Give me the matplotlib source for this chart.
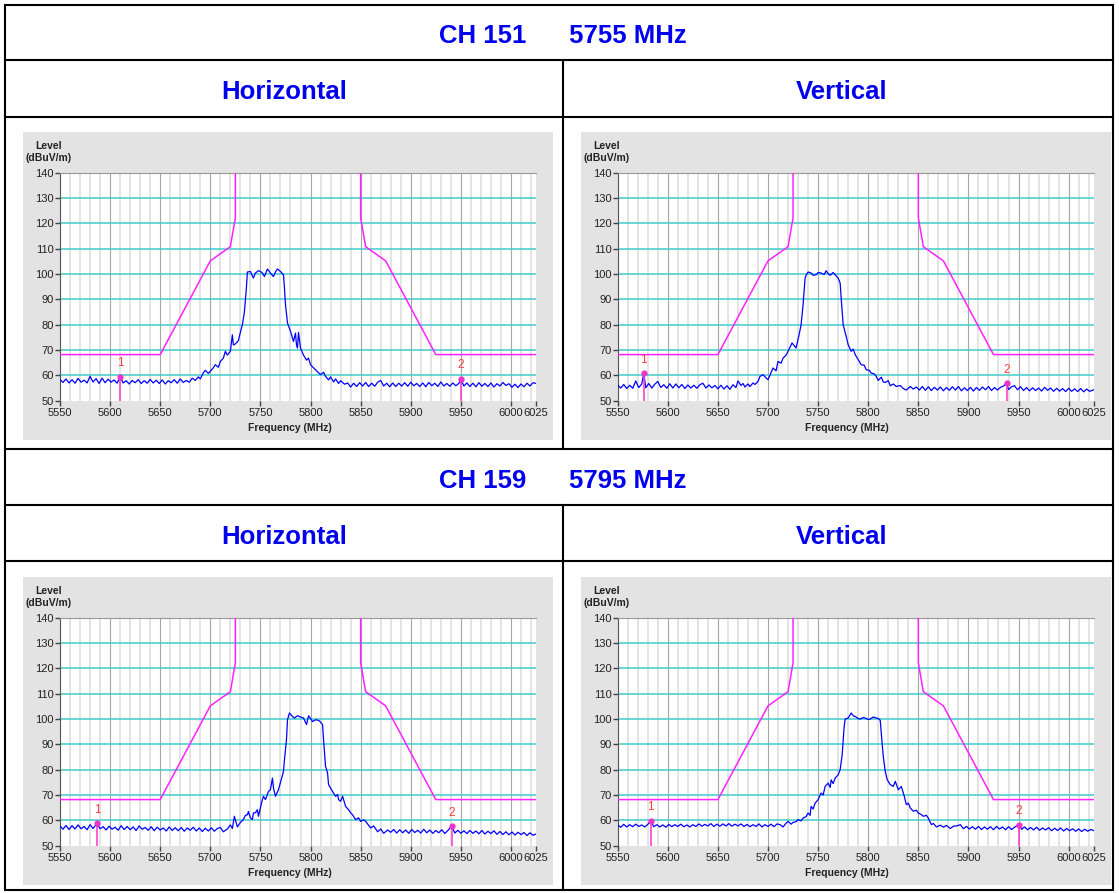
import numpy as np
import matplotlib.pyplot as plt
from matplotlib.patches import Rectangle

plt.rcParams['font.family'] = ['Liberation Sans', 'DejaVu Sans']

# limit mask (MHz, dBuV/m)
mask_left = [(5550, 68.2), (5650, 68.2), (5700, 105.2), (5720, 110.8), (5725, 122.2), (5725, 140)]
mask_right = [(5850, 140), (5850, 122.2), (5855, 110.8), (5875, 105.2), (5925, 68.2), (6025, 68.2)]

# CH 151 horizontal trace (MHz, dBuV/m)
h151 = [
    (5550, 58.4), (5553, 57.2), (5556, 58.6), (5559, 57.0), (5562, 58.3), (5565, 56.9), (5568, 58.8),
    (5571, 57.3), (5574, 58.1), (5577, 57.0), (5580, 59.6), (5583, 57.4), (5586, 58.7), (5589, 56.8),
    (5592, 58.9), (5595, 57.1), (5598, 58.5), (5601, 57.3), (5604, 58.2), (5607, 56.9), (5610, 59.5),
    (5613, 57.0), (5616, 57.9), (5619, 56.6), (5622, 58.0), (5625, 57.1), (5628, 58.3), (5631, 56.8),
    (5634, 57.9), (5637, 56.9), (5640, 58.4), (5643, 57.0), (5646, 58.1), (5649, 56.8), (5652, 58.2),
    (5655, 56.6), (5658, 57.9), (5661, 57.1), (5664, 58.3), (5667, 56.9), (5670, 58.6), (5673, 57.2),
    (5676, 58.0), (5679, 57.3), (5682, 58.9), (5685, 58.0), (5688, 59.4), (5690, 58.6), (5693, 61.0),
    (5695, 62.0), (5698, 60.8), (5700, 61.6), (5703, 63.0), (5705, 64.2), (5708, 63.2), (5710, 65.5),
    (5713, 66.8), (5715, 69.5), (5717, 68.0), (5720, 69.5), (5722, 76.0),
    (5723, 72.0), (5725, 72.4), (5728, 73.7), (5730, 77.0), (5732, 80.0), (5734, 85.0), (5736, 94.5),
    (5737, 100.8), (5740, 101.0), (5743, 98.4), (5745, 100.4), (5748, 101.3), (5750, 101.0),
    (5752, 100.4), (5754, 99.0), (5757, 102.0), (5760, 100.4), (5763, 99.0), (5765, 100.8),
    (5767, 102.0), (5770, 101.0), (5773, 99.7), (5774, 94.5), (5775, 88.0), (5777, 80.7), (5780, 77.4),
    (5783, 73.4), (5785, 76.7), (5786, 72.0), (5787, 70.8), (5788, 77.0), (5790, 70.8), (5793, 68.0),
    (5796, 66.0), (5798, 66.8), (5800, 64.2), (5803, 63.0), (5805, 62.2), (5808, 61.0), (5810, 60.3),
    (5813, 61.2), (5815, 59.6), (5818, 58.2), (5820, 59.4), (5823, 57.4), (5825, 58.6), (5828, 56.8),
    (5830, 57.9), (5834, 56.5), (5837, 57.0), (5840, 55.4), (5843, 56.9), (5846, 55.6), (5849, 57.1),
    (5852, 55.8), (5855, 57.2), (5858, 55.6), (5861, 56.9), (5864, 55.7), (5867, 57.3), (5870, 58.0),
    (5873, 55.8), (5876, 56.9), (5879, 55.5), (5882, 57.0), (5885, 55.6), (5888, 56.9), (5891, 55.8),
    (5894, 57.1), (5897, 55.7), (5900, 57.3), (5903, 55.9), (5906, 56.8), (5909, 55.6), (5912, 57.0),
    (5915, 55.5), (5918, 57.2), (5921, 55.9), (5924, 56.9), (5927, 55.6), (5930, 57.4), (5933, 55.8),
    (5936, 56.8), (5939, 55.7), (5942, 57.0), (5945, 55.9), (5948, 56.8), (5950, 58.6), (5953, 55.8),
    (5956, 57.0), (5959, 55.6), (5962, 56.9), (5965, 55.5), (5968, 57.1), (5971, 55.7), (5974, 56.8),
    (5977, 55.6), (5980, 57.0), (5983, 55.4), (5986, 56.7), (5989, 55.8), (5992, 57.2), (5995, 56.0),
    (5998, 56.7), (6001, 55.3), (6004, 56.5), (6007, 55.2), (6010, 56.6), (6013, 55.5), (6016, 56.9),
    (6019, 55.8), (6022, 57.1), (6025, 56.8),
]

# CH 151 vertical trace
v151 = [
    (5550, 56.2), (5553, 55.0), (5556, 56.4), (5559, 54.8), (5562, 56.1), (5565, 54.9), (5568, 57.8),
    (5571, 55.2), (5574, 56.6), (5576, 60.8), (5578, 55.1), (5581, 56.8), (5584, 55.0), (5587, 56.5),
    (5590, 57.6), (5593, 55.2), (5596, 56.3), (5599, 54.9), (5602, 56.7), (5605, 55.0), (5608, 56.6),
    (5611, 55.1), (5614, 56.4), (5617, 54.8), (5620, 56.2), (5623, 55.0), (5626, 56.1), (5629, 54.9),
    (5632, 56.3), (5635, 56.9), (5638, 55.0), (5641, 56.2), (5644, 55.1), (5647, 56.0), (5650, 54.7),
    (5653, 56.1), (5656, 54.6), (5659, 55.9), (5662, 54.5), (5665, 56.3), (5668, 55.2), (5670, 57.8),
    (5673, 56.0), (5675, 56.8), (5677, 55.4), (5680, 56.6), (5682, 55.6), (5685, 57.0), (5687, 56.4),
    (5690, 57.6), (5692, 59.6), (5695, 60.3), (5698, 59.0), (5700, 58.3),
    (5705, 62.9), (5708, 61.8), (5710, 65.5), (5713, 64.8), (5715, 66.8), (5718, 68.0), (5720, 69.5),
    (5724, 72.8), (5728, 70.8), (5731, 76.0), (5733, 80.0), (5735, 87.9), (5737, 98.4), (5738, 99.5),
    (5740, 100.8), (5743, 100.4), (5745, 99.5), (5748, 99.7), (5750, 100.6), (5753, 100.4),
    (5756, 99.8), (5758, 101.3), (5760, 100.2), (5762, 99.5), (5765, 100.6), (5767, 99.7),
    (5770, 98.4), (5772, 96.4), (5773, 90.5), (5775, 80.0), (5778, 75.4), (5780, 72.1), (5783, 69.5),
    (5785, 70.4), (5787, 68.2), (5790, 66.2), (5793, 64.2), (5796, 64.0), (5798, 62.2), (5801, 62.0),
    (5803, 60.9), (5806, 60.6), (5808, 59.6), (5810, 58.0), (5813, 59.3), (5815, 57.4), (5817, 57.2),
    (5820, 57.9), (5822, 55.9), (5825, 56.6), (5828, 55.6), (5832, 56.0), (5835, 54.8), (5838, 54.2),
    (5842, 55.6), (5845, 54.6), (5848, 55.4), (5851, 54.2), (5854, 55.6), (5857, 54.1), (5860, 55.5),
    (5863, 54.0), (5866, 55.3), (5869, 54.2), (5872, 55.4), (5875, 53.9), (5878, 55.2), (5881, 54.1),
    (5884, 55.5), (5887, 54.2), (5890, 55.6), (5893, 53.9), (5896, 55.1), (5899, 54.0), (5902, 55.3),
    (5905, 53.8), (5908, 55.2), (5911, 54.1), (5914, 55.4), (5917, 54.3), (5920, 55.6), (5923, 54.0),
    (5926, 55.2), (5929, 54.2), (5932, 55.3), (5935, 55.8), (5938, 56.9), (5940, 54.4), (5943, 55.5),
    (5946, 55.9), (5949, 54.3), (5952, 55.5), (5955, 54.0), (5958, 55.2), (5961, 53.9), (5964, 55.1),
    (5967, 54.0), (5970, 55.0), (5973, 53.8), (5976, 55.3), (5979, 54.1), (5982, 55.0), (5985, 53.7),
    (5988, 54.9), (5991, 53.8), (5994, 54.8), (5997, 53.6), (6000, 54.9), (6003, 53.7), (6006, 54.7),
    (6009, 53.6), (6012, 54.8), (6015, 53.5), (6018, 54.6), (6021, 53.7), (6025, 54.3),
]

# CH 159 horizontal trace
h159 = [
    (5550, 57.8), (5553, 56.5), (5556, 58.0), (5559, 56.4), (5562, 57.9), (5565, 56.6), (5568, 58.2),
    (5571, 56.7), (5574, 57.6), (5577, 56.3), (5580, 58.3), (5583, 56.8), (5587, 58.8), (5590, 56.7),
    (5593, 57.5), (5596, 56.2), (5599, 57.7), (5602, 56.5), (5605, 57.3), (5608, 56.1), (5611, 57.9),
    (5614, 56.4), (5617, 57.6), (5620, 56.3), (5623, 57.4), (5626, 56.0), (5629, 57.8), (5632, 56.5),
    (5635, 57.2), (5638, 56.1), (5641, 57.5), (5644, 55.9), (5647, 57.3), (5650, 56.2), (5653, 57.0),
    (5656, 55.8), (5659, 57.4), (5662, 56.0), (5665, 57.1), (5668, 55.9), (5671, 57.2), (5674, 55.7),
    (5677, 57.0), (5680, 56.1), (5683, 57.3), (5686, 55.8), (5689, 57.0), (5692, 55.6), (5695, 56.9),
    (5698, 55.8), (5701, 57.1), (5704, 55.7), (5707, 56.8), (5710, 57.2), (5713, 55.5), (5717, 56.6),
    (5720, 58.2), (5722, 56.8), (5724, 61.6), (5727, 57.4), (5730, 59.2), (5733, 60.3),
    (5735, 62.0), (5737, 62.2), (5738, 63.5), (5740, 61.0), (5742, 60.3), (5743, 62.9), (5745, 63.0),
    (5747, 64.2), (5748, 61.6), (5750, 65.0), (5752, 68.2), (5753, 69.5), (5755, 68.2), (5758, 71.4),
    (5760, 72.1), (5762, 76.7), (5763, 72.8), (5765, 69.5), (5768, 72.1), (5770, 75.0), (5772, 78.0),
    (5773, 79.3), (5774, 84.0), (5776, 91.8), (5777, 99.7), (5779, 102.4), (5782, 101.0),
    (5784, 100.4), (5787, 101.3), (5790, 100.8), (5793, 100.4), (5796, 97.8), (5798, 101.3),
    (5800, 100.2), (5802, 99.0), (5805, 99.7), (5808, 99.5), (5810, 98.8), (5812, 97.8), (5813, 91.8),
    (5815, 81.3), (5817, 78.7), (5818, 74.1), (5822, 71.4), (5825, 69.5), (5827, 70.2), (5828, 68.2),
    (5830, 67.5), (5832, 69.5), (5835, 65.5), (5838, 64.2), (5840, 63.0), (5842, 62.2), (5845, 60.3),
    (5848, 61.0), (5850, 59.6), (5853, 60.2), (5855, 59.6), (5858, 58.0), (5860, 57.0), (5863, 57.8),
    (5867, 55.5), (5870, 56.6), (5873, 54.9), (5877, 56.2), (5880, 55.3), (5883, 56.4), (5886, 55.0),
    (5889, 56.3), (5892, 55.1), (5895, 56.2), (5898, 54.9), (5901, 56.4), (5904, 55.2), (5907, 56.1),
    (5910, 55.0), (5913, 56.5), (5916, 55.1), (5919, 56.2), (5922, 54.9), (5925, 56.0), (5928, 55.1),
    (5931, 56.3), (5934, 54.8), (5937, 56.0), (5941, 57.7), (5944, 55.0), (5947, 56.1), (5950, 54.9),
    (5953, 55.9), (5956, 54.8), (5959, 56.0), (5962, 54.9), (5965, 55.8), (5968, 54.7), (5971, 56.0),
    (5974, 54.6), (5977, 55.7), (5980, 54.8), (5983, 55.9), (5986, 54.5), (5989, 55.6), (5992, 54.4),
    (5995, 55.5), (5998, 54.3), (6001, 55.4), (6004, 54.2), (6007, 55.3), (6010, 54.4), (6013, 55.2),
    (6016, 54.0), (6019, 55.1), (6022, 54.1), (6025, 54.6),
]

# CH 159 vertical trace
v159 = [
    (5550, 58.2), (5553, 57.3), (5556, 58.4), (5559, 57.4), (5562, 58.3), (5565, 57.5), (5568, 58.5),
    (5571, 57.6), (5574, 58.2), (5577, 57.4), (5580, 58.4), (5583, 59.8), (5586, 57.5), (5589, 58.3),
    (5592, 57.4), (5595, 58.2), (5598, 57.3), (5601, 58.4), (5604, 57.5), (5607, 58.3), (5610, 57.6),
    (5613, 58.5), (5616, 57.5), (5619, 58.2), (5622, 57.4), (5625, 58.3), (5628, 57.6), (5631, 58.6),
    (5634, 57.7), (5637, 58.4), (5640, 57.8), (5643, 58.7), (5646, 57.6), (5649, 58.5), (5652, 57.7),
    (5655, 58.6), (5658, 57.8), (5661, 58.7), (5664, 57.7), (5667, 58.5), (5670, 57.8), (5673, 58.6),
    (5676, 57.6), (5679, 58.4), (5682, 57.5), (5685, 58.3), (5688, 57.6), (5691, 58.6), (5694, 57.4),
    (5697, 58.3), (5700, 57.6), (5703, 58.5), (5706, 57.5), (5709, 58.6), (5712, 58.3),
    (5715, 57.4), (5718, 58.9), (5720, 59.6), (5723, 58.5), (5725, 59.2), (5728, 59.5), (5730, 60.3),
    (5733, 59.8), (5735, 60.9), (5738, 61.5), (5740, 62.9), (5742, 62.0), (5743, 65.5), (5745, 64.5),
    (5747, 66.8), (5750, 68.2), (5753, 70.8), (5755, 70.0), (5757, 73.4), (5760, 74.7), (5762, 73.0),
    (5763, 76.0), (5765, 74.5), (5767, 76.7), (5770, 78.0), (5772, 80.0), (5774, 85.9), (5776, 97.1),
    (5777, 100.0), (5780, 100.4), (5783, 102.4), (5785, 101.3), (5787, 101.0), (5790, 100.2),
    (5792, 100.0), (5795, 100.6), (5797, 100.4), (5800, 99.8), (5802, 100.0), (5805, 100.8),
    (5808, 100.4), (5810, 100.2), (5812, 99.5), (5813, 94.5), (5815, 85.3), (5817, 79.3), (5819, 76.0),
    (5822, 74.1), (5825, 73.4), (5827, 75.4), (5830, 72.1), (5833, 73.4), (5836, 69.5), (5838, 66.2),
    (5840, 66.8), (5842, 64.9), (5845, 63.6), (5848, 64.0), (5850, 62.9), (5853, 62.3), (5855, 61.6),
    (5858, 62.0), (5860, 60.9), (5863, 58.3), (5865, 58.8), (5868, 57.4), (5872, 58.1), (5875, 57.3),
    (5878, 58.0), (5882, 56.8), (5885, 57.7), (5888, 57.8), (5892, 58.3), (5895, 56.7), (5898, 57.6),
    (5901, 56.6), (5904, 57.5), (5907, 56.5), (5910, 57.6), (5913, 56.4), (5916, 57.4), (5919, 56.5),
    (5922, 57.5), (5925, 56.3), (5928, 57.6), (5931, 56.6), (5934, 57.4), (5937, 56.3), (5940, 57.5),
    (5943, 56.4), (5946, 57.3), (5950, 58.3), (5953, 56.5), (5956, 57.4), (5959, 56.3), (5962, 57.2),
    (5965, 56.2), (5968, 57.3), (5971, 56.1), (5974, 57.0), (5977, 56.2), (5980, 57.1), (5983, 55.9),
    (5986, 56.9), (5989, 56.0), (5992, 57.0), (5995, 55.8), (5998, 56.8), (6001, 55.9), (6004, 56.7),
    (6007, 55.7), (6010, 56.6), (6013, 55.6), (6016, 56.5), (6019, 55.7), (6022, 56.4), (6025, 56.0),
]

# markers 1 and 2 (MHz, dBuV/m)
mk_h151 = [(5610, 59.5), (5950, 58.6)]
mk_v151 = [(5576, 60.8), (5938, 56.9)]
mk_h159 = [(5587, 58.8), (5941, 57.7)]
mk_v159 = [(5583, 59.8), (5950, 58.3)]

xticks = [5550, 5600, 5650, 5700, 5750, 5800, 5850, 5900, 5950, 6000, 6025]
yticks = [50, 60, 70, 80, 90, 100, 110, 120, 130, 140]

W, H = 1119, 893
BLUE = '#0000ee'
fig = plt.figure(figsize=(W / 100, H / 100), dpi=100)
bg = fig.add_axes([0, 0, 1, 1])
bg.set_xlim(0, W)
bg.set_ylim(H, 0)
bg.axis('off')


def px_axes(x0, y0, x1, y1):
    return fig.add_axes([x0 / W, 1 - y1 / H, (x1 - x0) / W, (y1 - y0) / H])


# table frame
lw = 1.5
bg.plot([5, 1113, 1113, 5, 5], [5, 5, 890, 890, 5], color='black', lw=lw, solid_joinstyle='miter')
for y in [60, 117, 449, 505, 561]:
    bg.plot([5, 1113], [y, y], color='black', lw=lw)
bg.plot([563, 563], [60, 449], color='black', lw=lw)
bg.plot([563, 563], [505, 890], color='black', lw=lw)

bg.text(563, 36, 'CH 151      5755 MHz', color=BLUE, fontsize=18.5, fontweight='bold', ha='center', va='center')
bg.text(563, 481, 'CH 159      5795 MHz', color=BLUE, fontsize=18.5, fontweight='bold', ha='center', va='center')
for yy in [92, 537]:
    bg.text(284, yy, 'Horizontal', color=BLUE, fontsize=18.5, fontweight='bold', ha='center', va='center')
    bg.text(842, yy, 'Vertical', color=BLUE, fontsize=18.5, fontweight='bold', ha='center', va='center')


def draw_panel(xo, yo, trace, markers):
    bg.add_patch(Rectangle((23 + xo, 132 + yo), 530, 308, fc='#e3e3e3', ec='none'))
    bg.text(49 + xo, 146 + yo, 'Level', fontsize=7.5, fontweight='bold', ha='center', va='center', color='#222222')
    bg.text(49 + xo, 158 + yo, '(dBuV/m)', fontsize=7.5, fontweight='bold', ha='center', va='center', color='#222222')
    bg.text(289.5 + xo, 428 + yo, 'Frequency (MHz)', fontsize=7.5, fontweight='bold', ha='center', va='center', color='#222222')

    ax = px_axes(60 + xo, 172.7 + yo, 536 + xo, 400.7 + yo)
    ax.set_xlim(5550, 6025)
    ax.set_ylim(50, 140)
    for f in range(5560, 6025, 10):
        if f % 50 == 0:
            ax.axvline(f, color='#a6a6a6', lw=0.8, zorder=1)
        else:
            ax.axvline(f, color='#dddddd', lw=1.1, zorder=0.5)
    for l in range(60, 140, 10):
        ax.axhline(l, color='#40cccc', lw=1.1, zorder=1.5)

    m = np.array(mask_left)
    ax.plot(m[:, 0], m[:, 1], color='#ff22ff', lw=1.1, zorder=3)
    m = np.array(mask_right)
    ax.plot(m[:, 0], m[:, 1], color='#ff22ff', lw=1.1, zorder=3)

    t = np.array(trace)
    ax.plot(t[:, 0], t[:, 1], color='#0000ff', lw=0.9, zorder=4)

    for i, (f, l) in enumerate(markers, start=1):
        ax.plot([f, f], [50, l], color='#ff33cc', lw=1.1, zorder=5)
        ax.plot(f, l, 'o', ms=3.5, color='#ee33cc', zorder=6)
        ax.text(f, l + 5.4, str(i), color='#ff3b3b', fontsize=8.5, ha='center', va='center', zorder=6)

    ax.set_xticks(xticks)
    ax.set_xticklabels([str(v) for v in xticks])
    ax.set_yticks(yticks)
    ax.set_yticklabels([str(v) for v in yticks])
    ax.tick_params(direction='out', length=3.5, width=1, color='#444444', labelsize=8, labelcolor='#222222', pad=2)
    ax.tick_params(axis='y', pad=1)
    ax.spines['left'].set_color('#555555')
    ax.spines['top'].set_color('#999999')
    ax.spines['right'].set_visible(False)
    ax.spines['bottom'].set_visible(False)


XR = 557.7
YB = 445
draw_panel(0, 0, h151, mk_h151)
draw_panel(XR, 0, v151, mk_v151)
draw_panel(0, YB, h159, mk_h159)
draw_panel(XR, YB, v159, mk_v159)

fig.savefig('out.png', dpi=100)
